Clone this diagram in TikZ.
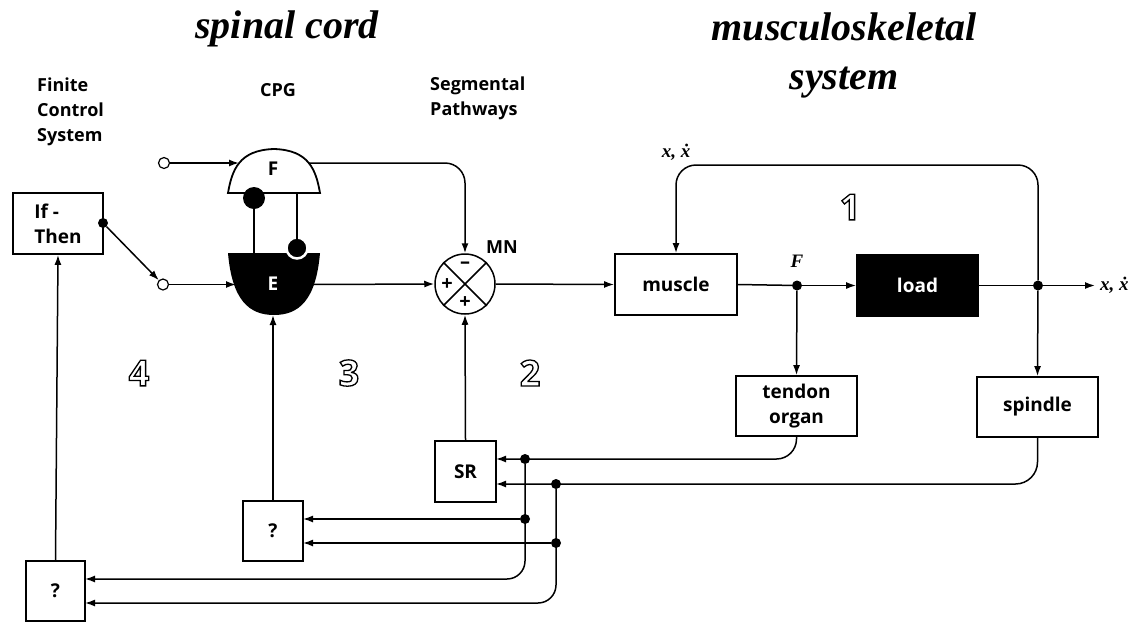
\documentclass[tikz,border=0pt]{standalone}
\usepackage{fontspec}
\setmainfont{Open Sans}
\setsansfont{Open Sans}
\newfontfamily\ttlfont{Liberation Serif}
\usetikzlibrary{arrows.meta,calc}
\newcommand\outl[1]{\special{pdf:literal direct 1 Tr 1.3 w}#1\special{pdf:literal direct 0 Tr}}
\tikzset{
 wire/.style={line width=1.5pt},
 arr/.style={wire,-{Latex[length=10pt,width=7pt]}},
 box/.style={draw,line width=1.8pt,inner sep=0pt,font=\sffamily\bfseries\fontsize{19}{25}\selectfont,align=center},
 lab/.style={font=\sffamily\bfseries\fontsize{18}{25}\selectfont,align=left,inner sep=0pt},
 ttl/.style={font=\ttlfont\bfseries\itshape\fontsize{40}{49}\selectfont,inner sep=0pt,align=center},
 jdot/.style={circle,fill=black,inner sep=0pt,minimum size=10pt},
 odot/.style={circle,draw,fill=white,line width=1.2pt,inner sep=0pt,minimum size=11pt},
 num/.style={font=\sffamily\bfseries\fontsize{36}{36}\selectfont,inner sep=0pt},
 mlab/.style={font=\ttlfont\bfseries\itshape\fontsize{19}{20}\selectfont,inner sep=0pt},
 sgn/.style={font=\sffamily\bfseries\fontsize{20}{20}\selectfont,inner sep=0pt},
 bigdot/.style={circle,fill=black,inner sep=0pt,minimum size=22pt},
}
\begin{document}
\begin{tikzpicture}[x=1pt,y=-1pt]
\useasboundingbox[fill=white] (0,0) rectangle (1148,622);

% titles and labels
\node[ttl,anchor=base] (t1) at (287,38) {spinal cord};
\node[ttl,anchor=north] (t2) at (844,13) {musculoskeletal\\system};
\node[lab,anchor=north west] (fcs) at (37,78) {Finite\\Control\\System};
\node[lab,anchor=base] (cpg) at (278,96) {CPG};
\node[lab,anchor=north west] (seg) at (430,77) {Segmental\\Pathways};
\node[lab,anchor=base] (mnl) at (502,253) {MN};

% region numbers
\node[num] (n1) at (850,207) {\outl{1}};
\node[num] (n2) at (530,373) {\outl{2}};
\node[num] (n3) at (349,373) {\outl{3}};
\node[num] (n4) at (139,373) {\outl{4}};

% CPG half-centres
\coordinate (Fin) at (239,163);
\coordinate (Fout) at (309,163);
\coordinate (Ein) at (236,284.5);
\coordinate (Eout) at (312,284.5);
\coordinate (Ebot) at (273,315);
\draw[line width=1.8pt,fill=white] (228,193) .. controls (232,170) and (239,150) .. (274,149) .. controls (309,150) and (316,170) .. (320,193) -- cycle;
\fill (228,253) -- (320,253) .. controls (316,300) and (299,315) .. (274,315) .. controls (249,315) and (232,300) .. (228,253) -- cycle;
\node[font=\sffamily\bfseries\fontsize{19}{20}\selectfont] (Flab) at (273,169) {F};
\node[font=\sffamily\bfseries\fontsize{19}{20}\selectfont,text=white] (Elab) at (273,284) {E};
\node[bigdot] (c1) at (254,198) {};
\node[bigdot,draw=white,line width=2.5pt,minimum size=21pt] (c2) at (297,248) {};
\coordinate (Etop) at (254,253);
\coordinate (Fbot) at (297,193);
\draw[wire] (c1.center) -- (Etop);
\draw[wire] (Fbot) -- (c2.center);

% inputs and finite control
\node[odot] (inF) at (164,163) {};
\node[odot] (inE) at (163,284.5) {};
\node[box,align=left,minimum width=90pt,minimum height=61pt] (ift) at (58,223.5) {If -\\Then};
\node[jdot] (sw) at (103,223) {};
\draw[arr] (inF) -- (Fin);
\draw[arr] (inE) -- (Ein);
\draw[arr] (sw) -- (inE);

% motoneuron summing junction
\node[circle,draw,line width=1.5pt,minimum size=60pt,inner sep=0pt] (mn) at (465,284) {};
\draw[wire] (mn.north west) -- (mn.south east);
\draw[wire] (mn.north east) -- (mn.south west);
\node[sgn] (sm) at (465,265) {–};
\node[sgn] (sp1) at (447,285) {+};
\node[sgn] (sp2) at (465,303) {+};
\draw[arr,rounded corners=20pt] (Fout) -| (mn.north);
\draw[arr] (Eout) -- (mn.west);

% musculoskeletal system
\node[box,minimum width=122pt,minimum height=61pt] (muscle) at (676,284.5) {muscle};
\node[box,fill=black,text=white,minimum width=121pt,minimum height=61pt] (load) at (917.5,285.5) {load};
\node[box,minimum width=121pt,minimum height=60pt] (tendon) at (796.5,406) {tendon\\organ};
\node[box,minimum width=121pt,minimum height=60pt] (spindle) at (1037.5,407) {spindle};
\node[jdot] (Fdot) at (797,285.5) {};
\node[jdot] (Xdot) at (1038,285.5) {};
\coordinate (out) at (1095,285.5);
\coordinate (topc) at (676,165);
\draw[arr] (mn.east) -- (muscle.west);
\draw[wire] (muscle.east) -- (Fdot);
\draw[arr] (Fdot) -- (load.west);
\draw[wire] (load.east) -- (Xdot);
\draw[arr] (Xdot) -- (out);
\draw[arr,rounded corners=20pt] (Xdot) |- (topc) -- (muscle.north);
\draw[arr] (Fdot) -- (tendon.north);
\draw[arr] (Xdot) -- (spindle.north);
\node[mlab,anchor=base] (xl1) at (676,157) {x, ẋ};
\node[mlab,anchor=base west] (xl2) at (1100,290) {x, ẋ};
\node[mlab,anchor=base] (fl) at (797,267) {F};

% segmental reflexes and higher levels
\node[box,minimum width=61pt,minimum height=61pt] (SR) at (465.5,471.5) {SR};
\node[box,minimum width=60pt,minimum height=60pt] (q1) at (273,531) {?};
\node[box,minimum width=59pt,minimum height=60pt] (q2) at (55.5,591) {?};
\draw[arr] (SR.north) -- (mn.south);
\draw[arr] (q1.north) -- (Ebot);
\draw[arr] (q2.north) -- (ift.south);

\coordinate (SRa) at (496,459);
\coordinate (SRb) at (496,484);
\coordinate (q1a) at (303,519);
\coordinate (q1b) at (303,543);
\coordinate (q2a) at (85,579);
\coordinate (q2b) at (85,603);
\node[jdot] (d1) at (525,459) {};
\node[jdot] (d2) at (556,484) {};
\node[jdot] (d3) at (525,519) {};
\node[jdot] (d4) at (556,543) {};
\draw[arr,rounded corners=20pt] (tendon.south) |- (SRa);
\draw[arr,rounded corners=22pt] (spindle.south) |- (SRb);
\draw[arr,rounded corners=18pt] (d1) |- (q2a);
\draw[arr,rounded corners=18pt] (d2) |- (q2b);
\draw[arr] (d3) -- (q1a);
\draw[arr] (d4) -- (q1b);
\end{tikzpicture}
\end{document}
